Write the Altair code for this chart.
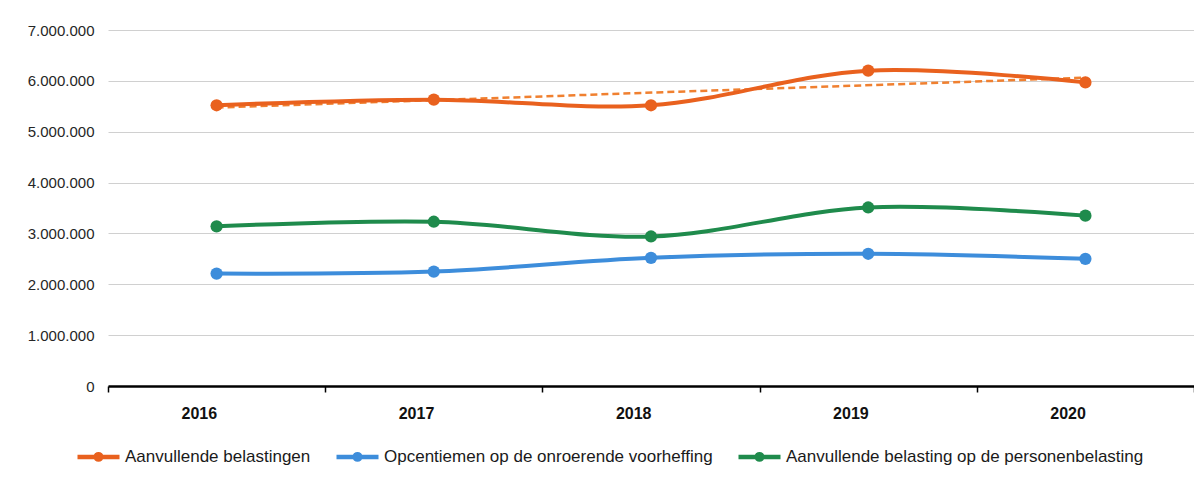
import altair as alt
import pandas as pd

years = [2016, 2017, 2018, 2019, 2020]
series = [
    "Aanvullende belastingen",
    "Opcentiemen op de onroerende voorheffing",
    "Aanvullende belasting op de personenbelasting",
]
aanvullende = [5520000, 5630000, 5520000, 6200000, 5970000]
opcentiemen = [2210000, 2250000, 2520000, 2600000, 2500000]
personen = [3140000, 3230000, 2940000, 3510000, 3350000]
colors = ["#E9611E", "#3D8DDB", "#1F8B4C"]
y_ticks = [0, 1000000, 2000000, 3000000, 4000000, 5000000, 6000000, 7000000]

rows = []
for s, vals in zip(series, [aanvullende, opcentiemen, personen]):
    for yr, v in zip(years, vals):
        rows.append({"jaar": yr, "reeks": s, "waarde": v})
df = pd.DataFrame(rows)

sym = "M-1,0L1,0M0.13,0A0.13,0.13,0,1,1,-0.13,0A0.13,0.13,0,1,1,0.13,0Z"

legend = alt.Legend(
    title=None, orient="none", legendX=-33, legendY=403, direction="horizontal",
    symbolType=sym, symbolSize=1764, symbolStrokeWidth=4.5, symbolOpacity=1,
    labelFontSize=17, labelFont="Liberation Sans", labelColor="#1a1a1a",
    labelOffset=3, columnPadding=16, labelLimit=600,
)

color = alt.Color("reeks:N", scale=alt.Scale(domain=series, range=colors),
                  sort=series, legend=legend)

xenc = alt.X(
    "jaar:O", bandPosition=0.5,
    scale=alt.Scale(type="band", paddingInner=0, paddingOuter=0),
    axis=alt.Axis(title=None, labelAngle=0, labelFontWeight="bold", labelFontSize=16,
                  labelFont="Liberation Sans", labelColor="#111111", labelPadding=21,
                  domainColor="#000000", domainWidth=2.5, tickColor="#000000",
                  tickSize=6, tickWidth=1.5, tickBand="extent", grid=False),
)
yenc = alt.Y(
    "waarde:Q", scale=alt.Scale(domain=[0, 7000000], nice=False),
    axis=alt.Axis(title=None, values=y_ticks, domain=False, ticks=False,
                  labelPadding=14, labelFontSize=15, labelFont="Liberation Sans",
                  labelColor="#262626", gridColor="#d0d0d0", gridWidth=1,
                  labelExpr="replace(replace(replace(format(datum.value, ','), ',', '.'), ',', '.'), ',', '.')"),
)

base = alt.Chart(df)

trend = base.transform_filter(alt.datum.reeks == series[0]).transform_regression(
    "jaar", "waarde"
).mark_line(strokeDash=[7, 4], strokeWidth=2.5, color="#F08030").encode(
    x=alt.X("jaar:O", bandPosition=0.5), y="waarde:Q"
)

lines = base.mark_line(strokeWidth=4, interpolate="catmull-rom").encode(
    x=xenc, y=yenc, color=color
)
points = base.mark_circle(size=150, opacity=1).encode(
    x=alt.X("jaar:O", bandPosition=0.5), y="waarde:Q", color=color
)

chart = alt.layer(trend, lines, points).properties(
    width=1086, height=356,
    autosize=alt.AutoSizeParams(type="none"),
    padding={"left": 100, "top": 22, "right": 0, "bottom": 87},
).configure_view(stroke=None)

chart.save("out.html", embed_options={"renderer": "svg", "actions": False})
